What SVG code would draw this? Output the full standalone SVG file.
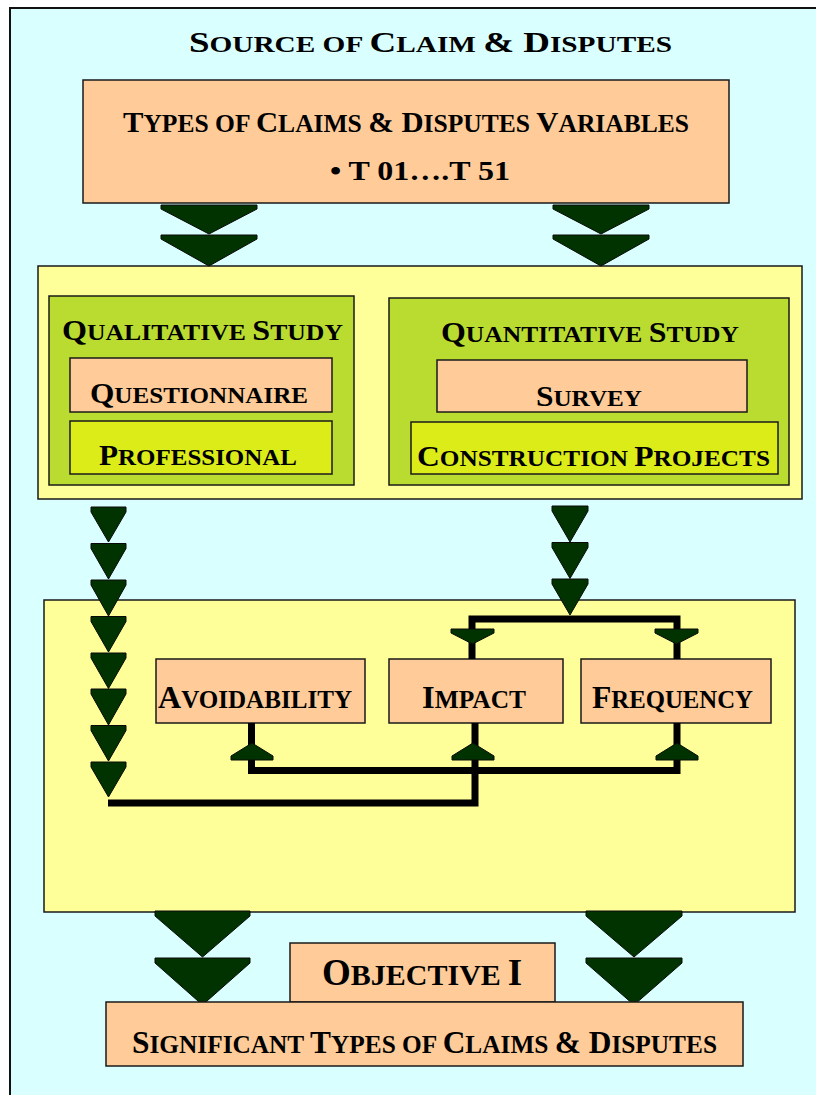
<svg xmlns="http://www.w3.org/2000/svg" width="816" height="1095" viewBox="0 0 816 1095">
  <style>
    .frame { fill: #D9FFFF; stroke: #111; stroke-width: 2; }
    .peach { fill: #FFCC99; stroke: #1a1a1a; stroke-width: 1.5; }
    .pale { fill: #FFFF99; stroke: #1a1a1a; stroke-width: 1.5; }
    .green { fill: #BADC30; stroke: #1a1a1a; stroke-width: 1.5; }
    .lime { fill: #DCEC18; stroke: #1a1a1a; stroke-width: 1.5; }
    .arr { fill: #003300; stroke: #0a0a0a; stroke-width: 1; stroke-linejoin: miter; }
    .wire { fill: none; stroke: #000; stroke-width: 7; stroke-linejoin: miter; }
    text { font-family: "Liberation Serif", "Times New Roman", serif; font-weight: bold; fill: #000; }
  </style>

  <!-- page background -->
  <rect x="0" y="0" width="816" height="1095" fill="#FFFFFF"/>
  <rect class="frame" x="10" y="8" width="820" height="1100"/>

  <!-- headings use large initials with smaller capitals for the rest -->
  <g id="title">
    <text x="189" y="52" font-size="23" textLength="483" lengthAdjust="spacingAndGlyphs"><tspan font-size="29">S</tspan>OURCE OF <tspan font-size="29">C</tspan>LAIM <tspan font-size="29">&amp; D</tspan>ISPUTES</text>
  </g>

  <g id="variables">
    <rect class="peach" x="83" y="80" width="646" height="123"/>
    <text x="123" y="132" font-size="25" textLength="566" lengthAdjust="spacingAndGlyphs"><tspan font-size="30">T</tspan>YPES OF <tspan font-size="30">C</tspan>LAIMS <tspan font-size="30">&amp; D</tspan>ISPUTES <tspan font-size="30">V</tspan>ARIABLES</text>
    <text x="330" y="180" font-size="27" textLength="180" lengthAdjust="spacingAndGlyphs">• T 01….T 51</text>
  </g>

  <g id="study">
    <rect class="pale" x="38" y="266" width="764" height="233"/>
  </g>

  <g id="qualitative">
    <rect class="green" x="49" y="296" width="305" height="189"/>
    <text x="62" y="340" font-size="24" textLength="281" lengthAdjust="spacingAndGlyphs"><tspan font-size="30">Q</tspan>UALITATIVE <tspan font-size="30">S</tspan>TUDY</text>
  </g>
  <g id="questionnaire">
    <rect class="peach" x="70" y="358" width="262" height="54"/>
    <text x="90" y="403" font-size="24" textLength="218" lengthAdjust="spacingAndGlyphs"><tspan font-size="30">Q</tspan>UESTIONNAIRE</text>
  </g>
  <g id="professional">
    <rect class="lime" x="70" y="421" width="262" height="53"/>
    <text x="99" y="465" font-size="24" textLength="198" lengthAdjust="spacingAndGlyphs"><tspan font-size="30">P</tspan>ROFESSIONAL</text>
  </g>

  <g id="quantitative">
    <rect class="green" x="389" y="298" width="400" height="187"/>
    <text x="441" y="342" font-size="24" textLength="298" lengthAdjust="spacingAndGlyphs"><tspan font-size="30">Q</tspan>UANTITATIVE <tspan font-size="30">S</tspan>TUDY</text>
  </g>
  <g id="survey">
    <rect class="peach" x="437" y="360" width="310" height="52"/>
    <text x="536" y="406" font-size="24" textLength="106" lengthAdjust="spacingAndGlyphs"><tspan font-size="30">S</tspan>URVEY</text>
  </g>
  <g id="projects">
    <rect class="lime" x="411" y="422" width="367" height="52"/>
    <text x="417" y="466" font-size="24" textLength="353" lengthAdjust="spacingAndGlyphs"><tspan font-size="30">C</tspan>ONSTRUCTION <tspan font-size="30">P</tspan>ROJECTS</text>
  </g>

  <g id="analysis">
    <rect class="pale" x="44" y="600" width="751" height="312"/>
  </g>

  <g id="avoidability">
    <rect class="peach" x="156" y="659" width="209" height="64"/>
    <text x="158" y="708" font-size="25" textLength="194" lengthAdjust="spacingAndGlyphs"><tspan font-size="32">A</tspan>VOIDABILITY</text>
  </g>
  <g id="impact">
    <rect class="peach" x="389" y="659" width="174" height="64"/>
    <text x="422" y="708" font-size="25" textLength="104" lengthAdjust="spacingAndGlyphs"><tspan font-size="32">I</tspan>MPACT</text>
  </g>
  <g id="frequency">
    <rect class="peach" x="581" y="659" width="190" height="64"/>
    <text x="592" y="708" font-size="25" textLength="161" lengthAdjust="spacingAndGlyphs"><tspan font-size="32">F</tspan>REQUENCY</text>
  </g>

  <g id="connectors">
    <!-- variables to study -->
    <polygon class="arr" points="161,205 257,205 257,209 209,234 161,209"/>
    <polygon class="arr" points="161,235 257,235 257,239 209,266 161,239"/>
    <polygon class="arr" points="553,205 649,205 649,209 601,234 553,209"/>
    <polygon class="arr" points="553,235 649,235 649,239 601,266 553,239"/>

    <!-- feedback and branch wires -->
    <path class="wire" d="M472,659 V619 H677 V659"/>
    <path class="wire" d="M251.5,723 V770.5 H677 V723"/>
    <path class="wire" d="M108,803 H475 V723"/>

    <!-- qualitative chain -->
    <polygon class="arr" points="91,507 126,507 126,512 108.5,542 91,512"/>
    <polygon class="arr" points="91,543.5 126,543.5 126,548.5 108.5,579 91,548.5"/>
    <polygon class="arr" points="91,580 126,580 126,585 108.5,616 91,585"/>
    <polygon class="arr" points="91,616.5 126,616.5 126,621.5 108.5,652 91,621.5"/>
    <polygon class="arr" points="91,653 126,653 126,658 108.5,688.5 91,658"/>
    <polygon class="arr" points="91,689 126,689 126,694 108.5,725 91,694"/>
    <polygon class="arr" points="91,725.5 126,725.5 126,730.5 108.5,761 91,730.5"/>
    <polygon class="arr" points="91,762 126,762 126,767 108.5,797 91,767"/>

    <!-- quantitative chain -->
    <polygon class="arr" points="552,506 588,506 588,511 570,542 552,511"/>
    <polygon class="arr" points="552,542.5 588,542.5 588,547.5 570,578.5 552,547.5"/>
    <polygon class="arr" points="552,579 588,579 588,584 570,615 552,584"/>

    <!-- heads into impact and frequency -->
    <polygon class="arr" points="451,629 494,629 494,633 472.5,644 451,633"/>
    <polygon class="arr" points="655,629 698,629 698,633 676.5,644 655,633"/>

    <!-- heads up into the criteria boxes -->
    <polygon class="arr" points="231,760 273,760 273,756 252,743 231,756"/>
    <polygon class="arr" points="452,760 494,760 494,756 473,743 452,756"/>
    <polygon class="arr" points="656,760 698,760 698,756 677,743 656,756"/>

    <!-- analysis to objective -->
    <polygon class="arr" points="155,911 250,911 250,916 202.5,957 155,916"/>
    <polygon class="arr" points="155,958 250,958 250,963 202.5,1005 155,963"/>
    <polygon class="arr" points="586,911 682,911 682,916 634,957 586,916"/>
    <polygon class="arr" points="586,958 682,958 682,963 634,1005 586,963"/>
  </g>

  <g id="objective">
    <rect class="peach" x="290" y="943" width="265" height="59"/>
    <text x="322" y="985" font-size="30"><tspan font-size="37">O</tspan>BJECTIVE<tspan dx="7" font-size="37">I</tspan></text>
  </g>
  <g id="significant">
    <rect class="peach" x="106" y="1002" width="637" height="64"/>
    <text x="132" y="1053" font-size="25" textLength="585" lengthAdjust="spacingAndGlyphs"><tspan font-size="31">S</tspan>IGNIFICANT <tspan font-size="31">T</tspan>YPES OF <tspan font-size="31">C</tspan>LAIMS <tspan font-size="31">&amp; D</tspan>ISPUTES</text>
  </g>
</svg>
